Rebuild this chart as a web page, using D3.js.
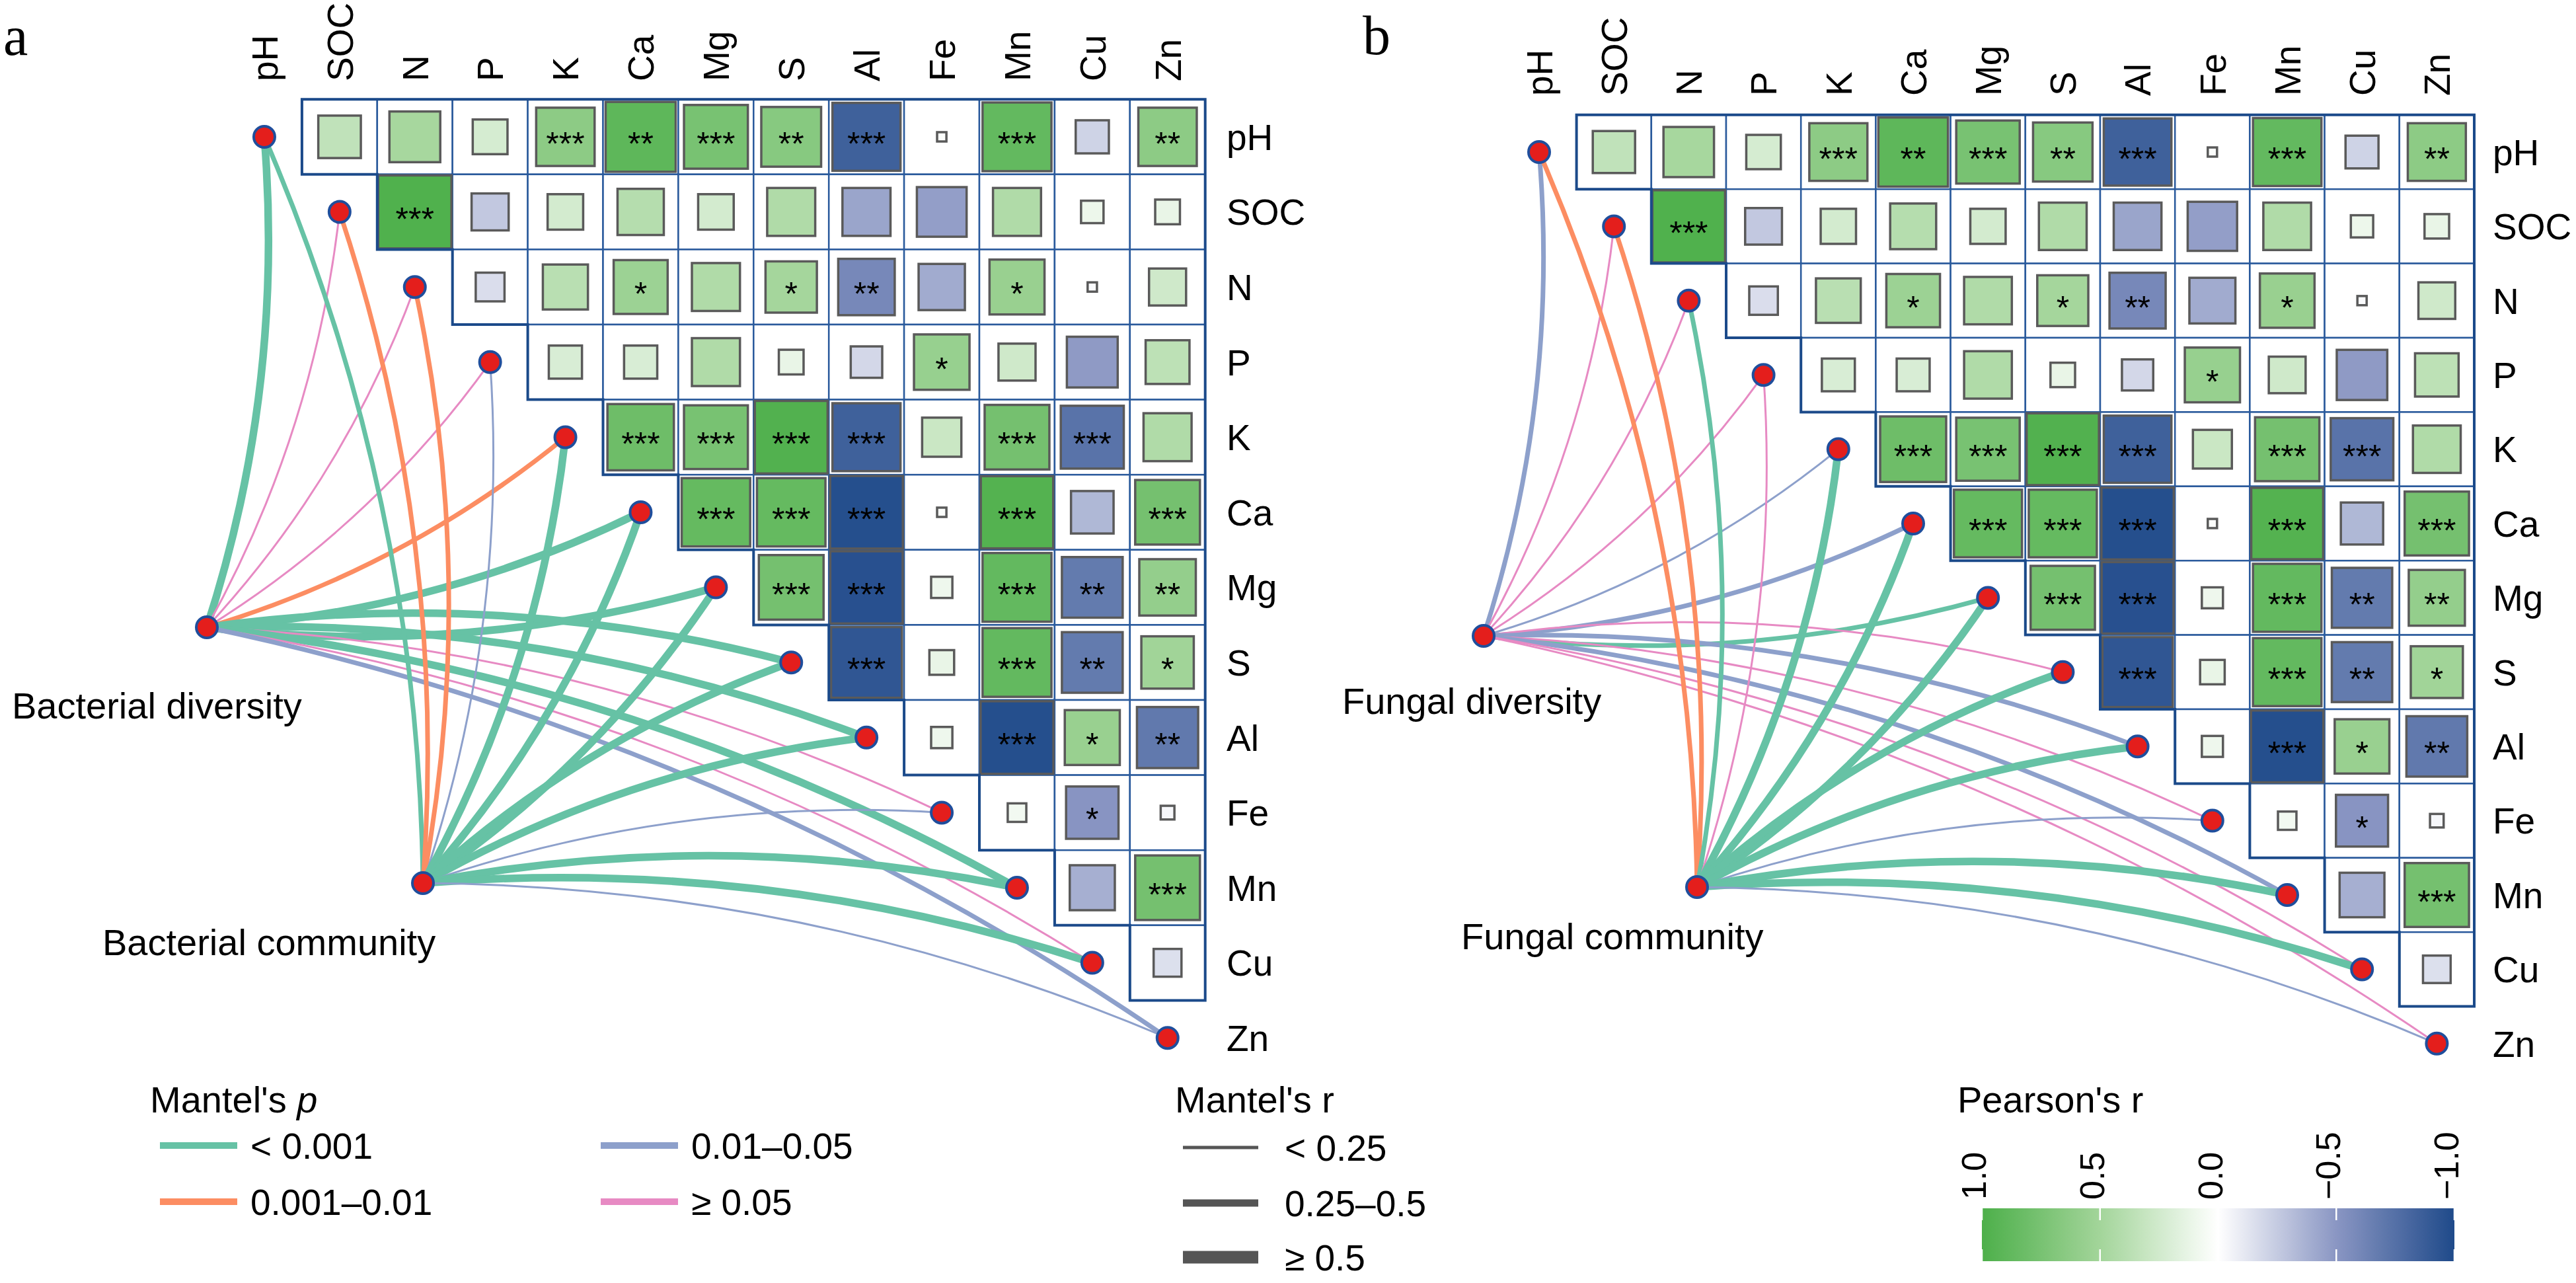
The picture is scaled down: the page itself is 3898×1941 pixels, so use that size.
<!DOCTYPE html>
<html><head><meta charset="utf-8">
<script src="https://cdn.jsdelivr.net/npm/d3@7/dist/d3.min.js"></script>
<style>
html,body{margin:0;padding:0;background:#fff;}
svg{display:block;}
text{font-family:"Liberation Sans",Arial,sans-serif;fill:#000;}
</style>
</head><body>
<svg id="chart" width="3898" height="1941" viewBox="0 0 3898 1941"></svg>
<script>
// ---------------- DATA ----------------
const envVars = ["pH","SOC","N","P","K","Ca","Mg","S","Al","Fe","Mn","Cu","Zn"];

// Pearson's r, upper triangle (row i, columns i+1 .. 12)
const rPH  = [0.34, 0.48, 0.23, 0.63, 0.90, 0.75, 0.66, -0.85, 0.02, 0.87, -0.21, 0.63];
const rSOC = [0.98, -0.26, 0.24, 0.40, 0.24, 0.43, -0.43, -0.46, 0.43, 0.10, 0.12];
const rN   = [-0.16, 0.38, 0.54, 0.43, 0.49, -0.59, -0.40, 0.56, -0.02, 0.26];
const rP   = [0.21, 0.21, 0.43, 0.12, -0.19, 0.57, 0.26, -0.48, 0.36];
const rK   = [0.81, 0.75, 0.97, -0.85, 0.29, 0.77, -0.73, 0.43];
const rCa  = [0.86, 0.86, -0.97, 0.02, 0.96, -0.34, 0.77];
const rMg  = [0.77, -0.96, 0.09, 0.87, -0.68, 0.59];
const rS   = [-0.92, 0.12, 0.87, -0.68, 0.51];
const rAl  = [0.09, -0.97, 0.56, -0.69];
const rFe  = [0.07, -0.51, -0.04];
const rMn  = [-0.38, 0.77];
const rCu  = [-0.15];
const rRows = [rPH, rSOC, rN, rP, rK, rCa, rMg, rS, rAl, rFe, rMn, rCu];

// significance marks
const sPH  = ["", "", "", "***", "**", "***", "**", "***", "", "***", "", "**"];
const sSOC = ["***", "", "", "", "", "", "", "", "", "", ""];
const sN   = ["", "", "*", "", "*", "**", "", "*", "", ""];
const sP   = ["", "", "", "", "", "*", "", "", ""];
const sK   = ["***", "***", "***", "***", "", "***", "***", ""];
const sCa  = ["***", "***", "***", "", "***", "", "***"];
const sMg  = ["***", "***", "", "***", "**", "**"];
const sS   = ["***", "", "***", "**", "*"];
const sAl  = ["", "***", "*", "**"];
const sFe  = ["", "*", ""];
const sMn  = ["", "***"];
const sCu  = [""];
const sRows = [sPH, sSOC, sN, sP, sK, sCa, sMg, sS, sAl, sFe, sMn, sCu];

// Mantel categories
const pLevels = ["< 0.001", "0.001\u20130.01", "0.01\u20130.05", "\u2265 0.05"];
const rLevels = ["< 0.25", "0.25\u20130.5", "\u2265 0.5"];
const P1 = pLevels[0], P2 = pLevels[1], P3 = pLevels[2], P4 = pLevels[3];
const R1 = rLevels[0], R2 = rLevels[1], R3 = rLevels[2];

const bacDivP = [P1, P4, P4, P4, P2, P1, P1, P1, P1, P4, P1, P4, P3];
const bacDivR = [R3, R1, R1, R1, R2, R3, R3, R3, R3, R1, R3, R1, R2];
const bacComP = [P1, P2, P2, P3, P1, P1, P1, P1, P1, P3, P1, P1, P3];
const bacComR = [R2, R2, R2, R1, R3, R3, R3, R3, R3, R1, R3, R3, R1];

const funDivP = [P3, P4, P4, P4, P3, P3, P1, P4, P3, P4, P3, P4, P4];
const funDivR = [R2, R1, R1, R1, R1, R2, R2, R1, R2, R1, R2, R1, R1];
const funComP = [P2, P2, P1, P4, P1, P1, P1, P1, P1, P3, P1, P1, P3];
const funComR = [R2, R2, R2, R1, R3, R3, R3, R3, R3, R1, R3, R3, R1];

const colorTicks = [1, 0.5, 0, -0.5, -1];

// ---------------- SCALES / STYLES ----------------
const svg = d3.select("#chart");
const FS = 55;
const fillScale = d3.scaleLinear()
  .domain([-1, -0.5, 0, 0.5, 1])
  .range(["#1f4a8a", "#8a96c3", "#ffffff", "#a3d59a", "#4daf4a"]);
const pColor = d3.scaleOrdinal().domain(pLevels).range(["#66c2a5", "#fc8d62", "#8da0cb", "#e78ac3"]);
const rWidth = d3.scaleOrdinal().domain(rLevels).range([3, 7, 11.5]);
const rLegendWidth = d3.scaleOrdinal().domain(rLevels).range([5, 11, 19]);

const panels = [
  { letter: "a", letterX: 5, letterY: 83, x0: 343, cw: 113.9, y0: 150.2, ch: 113.6,
    colBottom: 123, rowX: 1856,
    hubs: [
      { name: "Bacterial diversity", x: 313, y: 949, lx: 18, ly: 1087, p: bacDivP, r: bacDivR },
      { name: "Bacterial community", x: 640, y: 1336, lx: 155, ly: 1445, p: bacComP, r: bacComR }
    ] },
  { letter: "b", letterX: 2062, letterY: 82, x0: 2272.4, cw: 113.2, y0: 173.8, ch: 112.4,
    colBottom: 145, rowX: 3772,
    hubs: [
      { name: "Fungal diversity", x: 2245, y: 962, lx: 2031, ly: 1080, p: funDivP, r: funDivR },
      { name: "Fungal community", x: 2568, y: 1342, lx: 2211, ly: 1436, p: funComP, r: funComR }
    ] }
];

function curvePath(x1, y1, x2, y2, sign) {
  const dx = x2 - x1, dy = y2 - y1, k = 0.1 * sign;
  const cx = (x1 + x2) / 2 - k * dy, cy = (y1 + y2) / 2 + k * dx;
  const p = d3.path(); p.moveTo(x1, y1); p.quadraticCurveTo(cx, cy, x2, y2); return p.toString();
}

panels.forEach(P => {
  const n = envVars.length;
  const x = d3.scaleBand().domain(envVars).range([P.x0, P.x0 + n * P.cw]).padding(0);
  const y = d3.scaleBand().domain(envVars).range([P.y0, P.y0 + n * P.ch]).padding(0);
  const bw = x.bandwidth(), bh = y.bandwidth();
  const g = svg.append("g");

  // panel letter
  g.append("text").attr("x", P.letterX).attr("y", P.letterY)
    .style("font-family", "'Liberation Serif','Times New Roman',serif").style("font-size", "84px")
    .text(P.letter);

  // cells
  const cells = [];
  rRows.forEach((row, i) => row.forEach((r, k) => {
    const j = i + 1 + k;
    cells.push({ row: envVars[i], col: envVars[j], r: r, sig: sRows[i][k] });
  }));
  const cg = g.append("g");
  cg.selectAll("rect.cell").data(cells).join("rect").attr("class", "cell")
    .attr("x", d => x(d.col)).attr("y", d => y(d.row)).attr("width", bw).attr("height", bh)
    .attr("fill", "#fff").attr("stroke", "#2a5a9c").attr("stroke-width", 2.5);
  const sq = d3.scaleSqrt().domain([0, 1]).range([0, 1]);
  cg.selectAll("rect.sq").data(cells).join("rect").attr("class", "sq")
    .attr("x", d => x(d.col) + bw / 2 - sq(Math.abs(d.r)) * bw / 2 + 1)
    .attr("y", d => y(d.row) + bh / 2 - sq(Math.abs(d.r)) * bh / 2 + 1)
    .attr("width", d => Math.max(sq(Math.abs(d.r)) * bw - 2, 4))
    .attr("height", d => Math.max(sq(Math.abs(d.r)) * bh - 2, 4))
    .attr("fill", d => fillScale(d.r)).attr("stroke", "#5a5a5a").attr("stroke-width", 3.5);
  cg.selectAll("text.sig").data(cells.filter(d => d.sig)).join("text").attr("class", "sig")
    .attr("x", d => x(d.col) + bw / 2).attr("y", d => y(d.row) + bh / 2 + 28)
    .attr("text-anchor", "middle").style("font-size", "50px").text(d => d.sig);

  // outer staircase border
  const X = c => P.x0 + c * P.cw, Y = r => P.y0 + r * P.ch;
  const bp = d3.path();
  bp.moveTo(X(1), Y(0)); bp.lineTo(X(n), Y(0)); bp.lineTo(X(n), Y(n - 1));
  for (let k = n - 1; k >= 1; k--) { bp.lineTo(X(k), Y(k)); bp.lineTo(X(k), Y(k - 1)); }
  g.append("path").attr("d", bp.toString()).attr("fill", "none").attr("stroke", "#1b4a8a").attr("stroke-width", 4)
    .attr("d", (() => { const p = d3.path(); p.moveTo(X(1), Y(0)); p.lineTo(X(n), Y(0)); p.lineTo(X(n), Y(n - 1)); p.lineTo(X(n-1), Y(n-1));
      for (let k = n - 1; k >= 1; k--) { p.lineTo(X(k), Y(k)); p.lineTo(X(k), Y(k - 1)); if (k > 1) p.lineTo(X(k - 1), Y(k - 1)); }
      p.closePath(); return p.toString(); })());

  // column labels
  g.selectAll("text.col").data(envVars).join("text").attr("class", "col")
    .attr("transform", d => `translate(${x(d) + bw / 2 + 0.36 * FS},${P.colBottom}) rotate(-90)`)
    .style("font-size", FS + "px").text(d => d);
  // row labels
  g.selectAll("text.rowl").data(envVars).join("text").attr("class", "rowl")
    .attr("x", P.rowX).attr("y", d => y(d) + bh / 2 + 0.36 * FS)
    .style("font-size", FS + "px").text(d => d);

  // Mantel links
  const lg = g.append("g").attr("fill", "none").attr("stroke-linecap", "butt");
  P.hubs.forEach(h => {
    envVars.forEach((v, i) => {
      const nx = x(v) + bw / 2, ny = y(v) + bh / 2;
      lg.append("path").attr("d", curvePath(h.x, h.y, nx, ny, i <= 6 ? 1 : -1))
        .attr("stroke", pColor(h.p[i])).attr("stroke-width", rWidth(h.r[i]));
    });
  });
  // nodes
  const nodes = envVars.map(v => ({ x: x(v) + bw / 2, y: y(v) + bh / 2 })).concat(P.hubs.map(h => ({ x: h.x, y: h.y })));
  g.selectAll("circle.node").data(nodes).join("circle").attr("class", "node")
    .attr("cx", d => d.x).attr("cy", d => d.y).attr("r", 16)
    .attr("fill", "#e41e1c").attr("stroke", "#1f4e9c").attr("stroke-width", 4);
  // hub labels
  g.selectAll("text.hub").data(P.hubs).join("text").attr("class", "hub")
    .attr("x", d => d.lx).attr("y", d => d.ly).style("font-size", "56px").text(d => d.name);
});

// ---------------- LEGENDS ----------------
const leg = svg.append("g");
const pt = leg.append("text").attr("x", 227).attr("y", 1683).style("font-size", "56px");
pt.append("tspan").text("Mantel's ");
pt.append("tspan").style("font-style", "italic").text("p");
const pPos = [[242, 1733], [242, 1818], [909, 1733], [909, 1818]];
pLevels.forEach((lv, i) => {
  const [kx, ky] = pPos[i];
  leg.append("line").attr("x1", kx).attr("x2", kx + 117).attr("y1", ky).attr("y2", ky)
    .attr("stroke", pColor(lv)).attr("stroke-width", 10);
  leg.append("text").attr("x", kx + 137).attr("y", ky + 20).style("font-size", "55px").text(lv);
});
leg.append("text").attr("x", 1778).attr("y", 1683).style("font-size", "56px").text("Mantel's r");
const rY = [1736, 1820, 1902];
rLevels.forEach((lv, i) => {
  leg.append("line").attr("x1", 1790).attr("x2", 1904).attr("y1", rY[i]).attr("y2", rY[i])
    .attr("stroke", "#555").attr("stroke-width", rLegendWidth(lv));
  leg.append("text").attr("x", 1944).attr("y", rY[i] + 20).style("font-size", "55px").text(lv);
});

// color bar
const cbX = d3.scaleLinear().domain([1, -1]).range([2999, 3714]);
const cbTop = 1828, cbH = 80;
const defs = svg.append("defs");
const grad = defs.append("linearGradient").attr("id", "cbgrad").attr("x1", "0%").attr("x2", "100%").attr("y1", "0%").attr("y2", "0%");
d3.range(0, 21).forEach(k => {
  const v = 1 - k * 0.1;
  grad.append("stop").attr("offset", (k * 5) + "%").attr("stop-color", fillScale(v));
});
leg.append("text").attr("x", 2962).attr("y", 1683).style("font-size", "56px").text("Pearson's r");
leg.append("rect").attr("x", cbX(1)).attr("y", cbTop).attr("width", cbX(-1) - cbX(1)).attr("height", cbH).attr("fill", "url(#cbgrad)");
const fmt = d3.format(".1f");
colorTicks.forEach(t => {
  const tx = cbX(t);
  [[cbTop, cbTop + 18], [cbTop + cbH - 18, cbTop + cbH]].forEach(([a, b]) => {
    leg.append("line").attr("x1", tx).attr("x2", tx).attr("y1", a).attr("y2", b).attr("stroke", "#fff").attr("stroke-width", 2.5);
  });
  leg.append("text").attr("transform", `translate(${tx + 6},1815) rotate(-90)`).style("font-size", "52px").text(fmt(t));
});
</script>
</body></html>
